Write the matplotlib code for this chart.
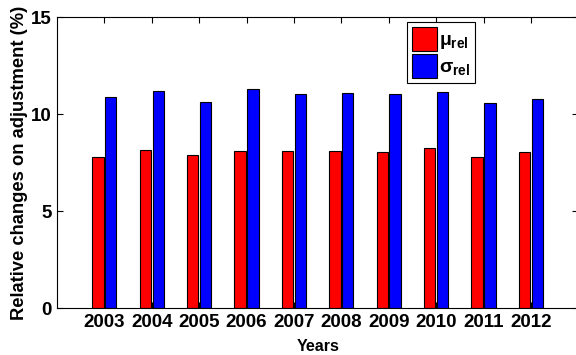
import numpy as np
import matplotlib.pyplot as plt

years = ['2003', '2004', '2005', '2006', '2007', '2008', '2009', '2010', '2011', '2012']
mu_rel = [7.78, 8.16, 7.89, 8.11, 8.09, 8.09, 8.04, 8.27, 7.78, 8.04]
sigma_rel = [10.88, 11.17, 10.62, 11.27, 11.03, 11.08, 11.03, 11.15, 10.57, 10.80]

plt.rcParams['font.family'] = ['Liberation Sans', 'DejaVu Sans']
plt.rcParams['font.weight'] = 'bold'
plt.rcParams['mathtext.fontset'] = 'custom'
plt.rcParams['mathtext.rm'] = 'Liberation Sans'
plt.rcParams['mathtext.it'] = 'Liberation Sans'
plt.rcParams['mathtext.bf'] = 'Liberation Sans:bold'

fig = plt.figure(figsize=(5.76, 3.55), dpi=100)
ax = fig.add_axes([0.099, 0.132, 0.905, 0.820])

x = np.arange(1, len(years) + 1)
w = 0.24
ax.bar(x - 0.135, mu_rel, w, color='#ff0000', edgecolor='black', linewidth=0.8,
       label=r'$\mu_{\mathbf{rel}}$')
ax.bar(x + 0.135, sigma_rel, w, color='#0000ff', edgecolor='black', linewidth=0.8,
       label=r'$\sigma_{\mathbf{rel}}$')

ax.set_xlim(0, 11)
ax.set_ylim(0, 15)
ax.set_xticks(x)
ax.set_xticklabels(years, fontsize=13.5, fontweight='bold')
ax.set_yticks([0, 5, 10, 15])
ax.set_yticklabels(['0', '5', '10', '15'], fontsize=13.5, fontweight='bold')
ax.tick_params(direction='in', top=True, right=True, length=4, width=0.8, pad=4)
for s in ax.spines.values():
    s.set_linewidth(0.8)

ax.set_xlabel('Years', fontsize=11.5, fontweight='bold', labelpad=6)
ax.set_ylabel('Relative changes on adjustment (%)', fontsize=13.2, fontweight='bold', labelpad=2)

leg = ax.legend(loc='upper left', bbox_to_anchor=(0.672, 0.983), fontsize=14,
                fancybox=False, edgecolor='black', framealpha=1,
                handlelength=1.3, handleheight=1.5, handletextpad=0.1,
                borderpad=0.25, labelspacing=0.15, borderaxespad=0)
leg.get_frame().set_linewidth(0.8)

fig.savefig('out.png', dpi=100)
